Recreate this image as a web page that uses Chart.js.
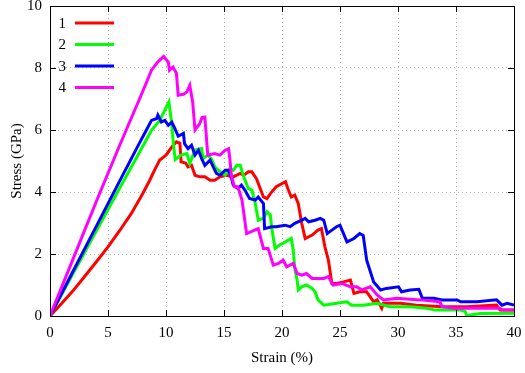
<!DOCTYPE html>
<html>
<head>
<meta charset="utf-8">
<script src="https://cdn.jsdelivr.net/npm/chart.js@4"></script>
<style>
html,body{margin:0;padding:0;background:#fff;}
#chart{display:block;}
</style>
</head>
<body>
<canvas id="chart" width="525" height="373"></canvas>
<script>
// values: strain (%) and stress (GPa) per sample
const labels=["1","2","3","4"];
const colors=["#ff0000","#00ff00","#0000ff","#ff00ff"];
const xTicks=[0,5,10,15,20,25,30,35,40];
const yTicks=[0,2,4,6,8,10];

const strain1=[0,1,2,3,4,5,6,7,8,8.6,9.0,9.46,10.0,10.5,10.9,11.2,11.3,11.7,11.9,12.2,12.5,12.9,13.35,13.8,14.2,14.65,15.2,15.8,16.4,16.7,17.1,17.4,17.8,18.4,18.7,19.0,19.5,20.3,20.5,20.8,21.1,21.4,21.7,22.0,22.6,23.1,23.4,23.7,24.0,24.3,24.7,25.3,25.9,26.2,26.7,27.3,27.9,28.2,28.6,28.75,30.2,31.6,33.9,35.9,38.5,38.8,40];
const stress1=[0,0.4,0.82,1.28,1.75,2.23,2.75,3.3,3.95,4.38,4.7,5.03,5.19,5.45,5.62,5.57,4.97,4.93,4.81,4.86,4.54,4.49,4.49,4.38,4.38,4.49,4.54,4.49,4.6,4.54,4.65,4.65,4.43,3.84,3.79,3.95,4.17,4.33,4.11,3.84,3.9,3.63,2.99,2.5,2.61,2.77,2.82,2.23,1.8,1.05,1.05,1.1,1.16,0.73,0.78,0.78,0.46,0.52,0.25,0.41,0.41,0.35,0.3,0.3,0.35,0.19,0.19];

const strain2=[0,2,4,6,7.74,8.75,9.46,9.9,10.25,10.5,10.65,10.8,11.3,11.8,12.05,12.5,13.07,13.2,13.6,13.9,14.2,14.5,15.1,15.5,15.8,16.1,16.4,16.7,17.1,17.4,17.7,17.95,18.4,18.7,19.0,19.1,19.4,19.8,20.3,20.8,20.97,21.1,21.3,21.4,21.7,22.1,22.6,22.85,23.1,23.6,24.7,25.6,26.0,27.0,28.2,29.3,31.05,32.5,33.2,35.4,35.8,35.95,36.2,37.1,40];
const stress2=[0,1.38,2.75,4.12,5.3,5.99,6.31,6.64,6.9,6.2,5.5,5.05,5.19,5.24,4.92,5.35,5.4,5.08,5.19,5.08,4.81,4.7,4.54,4.76,4.7,4.86,4.86,4.49,4.11,4.06,3.63,3.09,3.15,3.36,3.25,2.88,2.18,2.29,2.39,2.5,2.13,1.54,1.16,0.84,0.94,1.0,0.89,0.78,0.52,0.35,0.41,0.46,0.35,0.35,0.41,0.3,0.3,0.25,0.19,0.19,0.14,0.0,0.03,0.08,0.09];

const strain3=[0,2,4,6,7.74,8.3,8.75,9.2,9.3,9.6,9.9,10.2,10.5,10.76,11.05,11.5,11.6,11.9,12.2,12.5,12.8,13.07,13.35,13.8,14.07,14.35,14.65,15.1,15.4,15.65,15.8,16.2,16.5,16.8,17.2,17.7,17.95,18.4,18.5,19.1,19.5,20.26,20.7,21.1,21.7,22.0,22.3,22.85,23.3,23.6,23.9,24.3,24.7,25.0,25.6,26.2,26.7,27.0,27.3,27.9,28.5,29.0,30.05,30.3,31.05,31.8,32.1,33.1,33.8,35.1,35.4,36.8,38.5,38.97,39.4,40];
const stress3=[0,1.45,2.9,4.35,5.6,5.99,6.31,6.37,6.48,6.26,6.31,6.15,6.25,6.05,5.8,5.89,5.56,5.4,5.51,5.19,5.35,5.08,4.86,5.03,4.81,4.6,4.54,4.7,4.7,4.43,4.22,4.11,4.22,4.06,3.79,3.74,3.84,3.63,2.82,2.88,2.88,2.93,2.88,2.99,3.09,3.15,3.04,3.09,3.15,3.09,2.66,2.77,2.88,2.93,2.39,2.5,2.66,2.6,1.8,1.1,0.84,0.89,0.94,0.78,0.84,0.86,0.57,0.57,0.52,0.52,0.46,0.46,0.52,0.35,0.41,0.35];

const strain4=[0,2,4,6,8,8.75,9.3,9.8,10.2,10.3,10.6,10.9,11.05,11.5,11.8,12.05,12.3,12.5,12.9,13.1,13.35,13.6,14.2,14.65,15.1,15.4,15.5,15.65,15.9,16.2,16.55,16.95,17.95,18.4,18.8,19.25,19.7,20.1,20.4,20.97,21.3,21.7,22.1,22.6,23.6,24.0,24.4,25.15,25.9,26.45,26.9,27.6,28.2,28.75,29.9,31.9,33.6,33.8,34.8,36.2,38.8,38.97,40];
const stress4=[0,1.85,3.7,5.5,7.25,7.93,8.2,8.37,8.19,7.93,8.03,7.83,7.12,7.15,7.23,7.44,6.9,6.0,6.2,6.4,6.42,5.19,5.24,5.19,5.35,5.4,5.08,4.49,4.17,4.17,3.74,2.66,2.82,2.18,2.18,1.64,1.7,1.8,1.59,1.7,1.37,1.32,1.37,1.21,1.21,1.27,1.0,1.05,0.94,0.94,0.84,0.94,0.68,0.52,0.57,0.52,0.46,0.3,0.25,0.25,0.25,0.19,0.19];

const strains=[strain1,strain2,strain3,strain4];
const stresses=[stress1,stress2,stress3,stress4];

const FONT="Liberation Serif";

function pts(xs,ys){
return xs.map((v,i)=>({x:v,y:ys[i]}));
}

// gnuplot style border, inward ticks and legend
const framePlugin={
id:"frame",
afterDraw(chart){
const {ctx,chartArea:a,scales:{x,y}}=chart;
ctx.save();
ctx.strokeStyle="#000";
ctx.lineWidth=1;
ctx.strokeRect(Math.round(a.left)+0.5,Math.round(a.top)+0.5,Math.round(a.right-a.left),Math.round(a.bottom-a.top));
ctx.beginPath();
xTicks.forEach(v=>{
let px=Math.round(x.getPixelForValue(v))+0.5;
ctx.moveTo(px,a.bottom);ctx.lineTo(px,a.bottom-6);
ctx.moveTo(px,a.top);ctx.lineTo(px,a.top+6);
});
yTicks.forEach(v=>{
let py=Math.round(y.getPixelForValue(v))+0.5;
ctx.moveTo(a.left,py);ctx.lineTo(a.left+6,py);
ctx.moveTo(a.right,py);ctx.lineTo(a.right-6,py);
});
ctx.stroke();

ctx.font="15px "+FONT;
ctx.textAlign="right";
ctx.textBaseline="middle";
labels.forEach((l,i)=>{
let ly=23+i*21.5;
ctx.fillStyle="#000";
ctx.fillText(l,66,ly+1);
ctx.strokeStyle=colors[i];
ctx.lineWidth=3;
ctx.beginPath();
ctx.moveTo(75,ly);ctx.lineTo(114,ly);
ctx.stroke();
});
ctx.restore();
}
};

new Chart(document.getElementById("chart").getContext("2d"),{
type:"scatter",
data:{
datasets:labels.map((l,i)=>({
label:l,
data:pts(strains[i],stresses[i]),
showLine:true,
borderColor:colors[i],
backgroundColor:colors[i],
borderWidth:3,
pointRadius:0,
tension:0,
order:4-i
}))
},
options:{
responsive:false,
animation:false,
devicePixelRatio:1,
layout:{padding:{top:6,right:11,left:0,bottom:0}},
plugins:{legend:{display:false},tooltip:{enabled:false}},
scales:{
x:{
type:"linear",min:0,max:40,
afterFit:s=>{s.height=57;s.paddingLeft=0;s.paddingRight=0;},
ticks:{stepSize:5,color:"#000",font:{family:FONT,size:15},padding:8,maxRotation:0},
grid:{color:"#b0b0b0",lineWidth:1,drawTicks:false},
border:{display:false,dash:[1,3]},
title:{display:true,text:"Strain (%)",color:"#000",font:{family:FONT,size:15},padding:{top:0,bottom:6}}
},
y:{
type:"linear",min:0,max:10,
afterFit:s=>{s.width=50;s.paddingTop=0;s.paddingBottom=0;},
ticks:{stepSize:2,color:"#000",font:{family:FONT,size:15},padding:8},
grid:{color:"#b0b0b0",lineWidth:1,drawTicks:false},
border:{display:false,dash:[1,3]},
title:{display:true,text:"Stress (GPa)",color:"#000",font:{family:FONT,size:15},padding:{top:8,bottom:0}}
}
}
},
plugins:[framePlugin]
});
</script>
</body>
</html>
